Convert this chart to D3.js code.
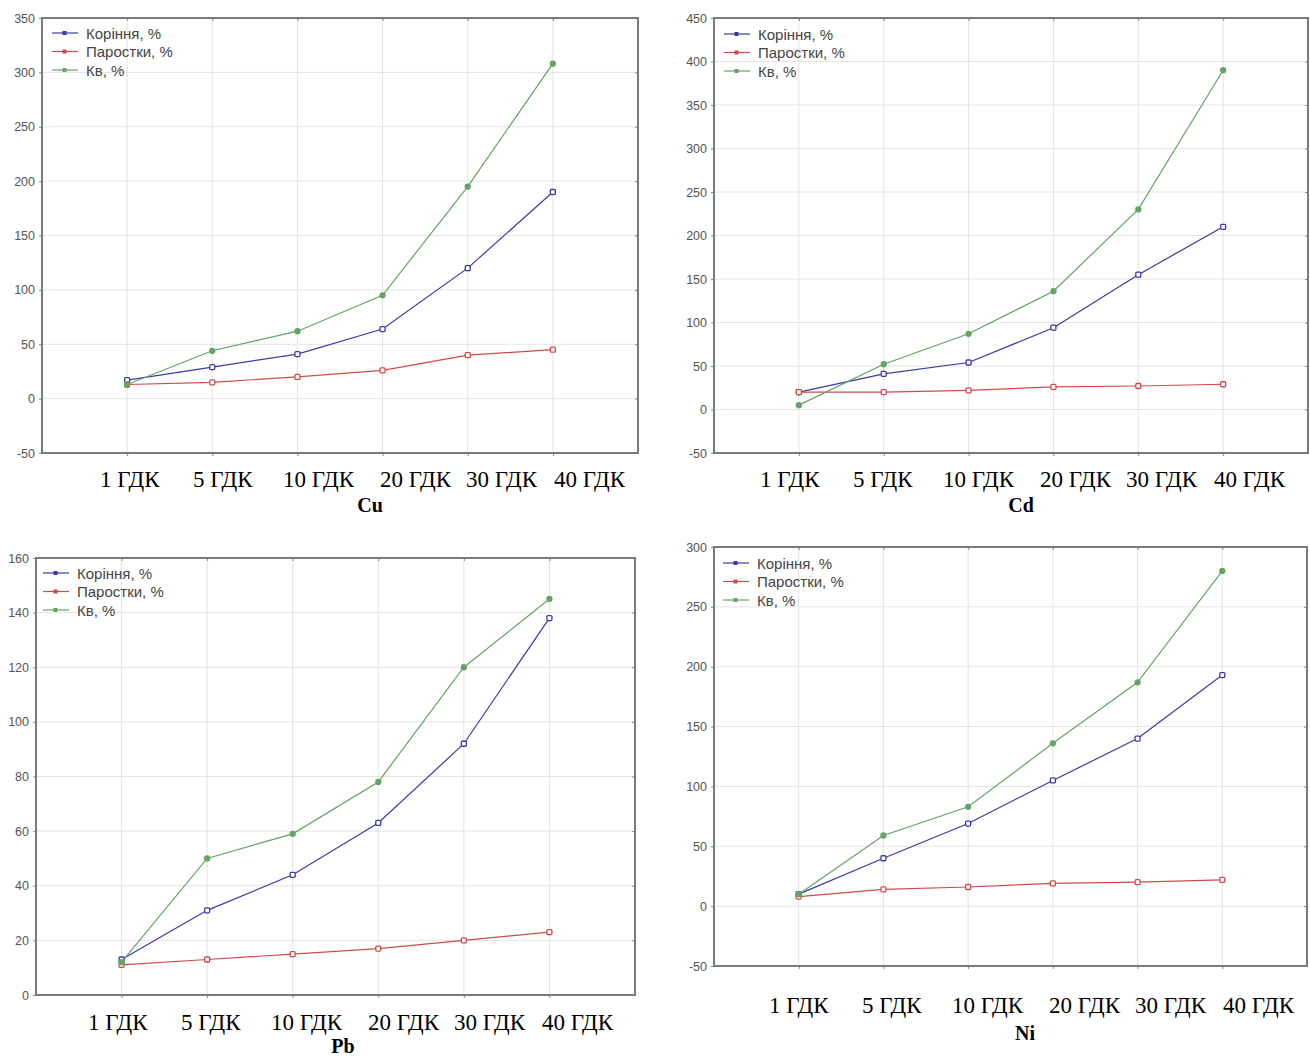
<!DOCTYPE html>
<html>
<head>
<meta charset="utf-8">
<script src="https://cdn.jsdelivr.net/npm/d3@7"></script>
<style>
  body { margin: 0; background: #fff; }
  svg { display: block; }
  .tick text { font-family: "Liberation Sans", Arial, sans-serif; font-size: 12.5px; fill: #555; }
  .legend text { font-family: "Liberation Sans", Arial, sans-serif; font-size: 15px; fill: #444; }
  .cat-label { font-family: "Liberation Serif", "Times New Roman", serif; font-size: 23px; fill: #000; }
  .metal { font-family: "Liberation Serif", "Times New Roman", serif; font-size: 20px; font-weight: bold; fill: #000; }
</style>
</head>
<body>
<svg id="chart" width="1310" height="1059"></svg>
<script>
// categories & series
const categories = ['1 ГДК', '5 ГДК', '10 ГДК', '20 ГДК', '30 ГДК', '40 ГДК'];
const seriesNames = ['Коріння, %', 'Паростки, %', 'Кв, %'];

// Cu
const cuRoots = [17, 29, 41, 64, 120, 190];
const cuShoots = [13, 15, 20, 26, 40, 45];
const cuKv = [13, 44, 62, 95, 195, 308];
const cuTicks = [-50, 0, 50, 100, 150, 200, 250, 300, 350];

// Cd
const cdRoots = [20, 41, 54, 94, 155, 210];
const cdShoots = [20, 20, 22, 26, 27, 29];
const cdKv = [5, 52, 87, 136, 230, 390];
const cdTicks = [-50, 0, 50, 100, 150, 200, 250, 300, 350, 400, 450];

// Pb
const pbRoots = [13, 31, 44, 63, 92, 138];
const pbShoots = [11, 13, 15, 17, 20, 23];
const pbKv = [12, 50, 59, 78, 120, 145];
const pbTicks = [0, 20, 40, 60, 80, 100, 120, 140, 160];

// Ni
const niRoots = [10, 40, 69, 105, 140, 193];
const niShoots = [8, 14, 16, 19, 20, 22];
const niKv = [10, 59, 83, 136, 187, 280];
const niTicks = [-50, 0, 50, 100, 150, 200, 250, 300];

const colors = ['#3b3ba6', '#d04a4a', '#64a464'];

// the labels under each chart are typed text with uneven spacing
const labelOffsets = [0, 93, 183, 280, 366, 454];

// layout of each panel on the page
const panels = [
    { name: 'Cu', series: [cuRoots, cuShoots, cuKv], ticks: cuTicks,
      frame: [42, 638, 18, 453], labels: [100, 487], title: [370, 512], legend: [52, 33] },
    { name: 'Cd', series: [cdRoots, cdShoots, cdKv], ticks: cdTicks,
      frame: [714, 1308, 18, 453], labels: [760, 487], title: [1021, 512], legend: [724, 34] },
    { name: 'Pb', series: [pbRoots, pbShoots, pbKv], ticks: pbTicks,
      frame: [36, 635, 558, 995], labels: [88, 1030], title: [343, 1053], legend: [43, 573] },
    { name: 'Ni', series: [niRoots, niShoots, niKv], ticks: niTicks,
      frame: [714, 1307, 547, 966], labels: [769, 1013], title: [1025, 1040], legend: [723, 563] }
];

const svg = d3.select('#chart');

panels.forEach(p => {
    const [x0, x1, y0, y1] = p.frame;
    const g = svg.append('g');

    const x = d3.scalePoint().domain(categories).range([x0, x1]).padding(1);
    const y = d3.scaleLinear().domain(d3.extent(p.ticks)).range([y1, y0]);

    // grid
    g.append('g').selectAll('line').data(p.ticks).join('line')
        .attr('x1', x0).attr('x2', x1)
        .attr('y1', d => y(d)).attr('y2', d => y(d))
        .attr('stroke', '#e4e4e4').attr('stroke-width', 1);
    g.append('g').selectAll('line').data(categories).join('line')
        .attr('x1', d => x(d)).attr('x2', d => x(d))
        .attr('y1', y0).attr('y2', y1)
        .attr('stroke', '#e4e4e4').attr('stroke-width', 1);

    // axes
    const left = g.append('g').attr('transform', `translate(${x0},0)`)
        .call(d3.axisLeft(y).tickValues(p.ticks).tickSize(3).tickPadding(4).tickFormat(d => String(d)));
    const right = g.append('g').attr('transform', `translate(${x1},0)`)
        .call(d3.axisLeft(y).tickValues(p.ticks).tickSize(3).tickFormat(''));
    const top = g.append('g').attr('transform', `translate(0,${y0})`)
        .call(d3.axisBottom(x).tickSize(3).tickFormat(''));
    const bottom = g.append('g').attr('transform', `translate(0,${y1})`)
        .call(d3.axisBottom(x).tickSize(3).tickFormat(''));
    [left, right, top, bottom].forEach(a => {
        a.select('.domain').remove();
        a.selectAll('.tick line').attr('stroke', '#888');
    });

    // frame
    g.append('rect')
        .attr('x', x0).attr('y', y0)
        .attr('width', x1 - x0).attr('height', y1 - y0)
        .attr('fill', 'none').attr('stroke', '#7a7a7a').attr('stroke-width', 2);

    // lines
    const line = d3.line().x((d, i) => x(categories[i])).y(d => y(d));
    p.series.forEach((vals, si) => {
        g.append('path').datum(vals)
            .attr('d', line)
            .attr('fill', 'none')
            .attr('stroke', colors[si])
            .attr('stroke-width', 1.2);
    });
    p.series.forEach((vals, si) => {
        g.append('g').selectAll('rect').data(vals).join('rect')
            .attr('x', (d, i) => x(categories[i]) - 2.5)
            .attr('y', d => y(d) - 2.5)
            .attr('width', 5).attr('height', 5)
            .attr('rx', si === 2 ? 2.5 : 1)
            .attr('fill', si === 2 ? colors[si] : '#fff')
            .attr('stroke', colors[si])
            .attr('stroke-width', 1.3);
    });

    // legend
    const [lx, ly] = p.legend;
    const leg = g.append('g').attr('class', 'legend');
    seriesNames.forEach((s, i) => {
        const row = leg.append('g').attr('transform', `translate(${lx},${ly + i * 18.5})`);
        row.append('line').attr('x1', 0).attr('x2', 26).attr('y1', 0).attr('y2', 0)
            .attr('stroke', colors[i]).attr('stroke-width', 1.2);
        row.append('rect').attr('x', 10.5).attr('y', -2).attr('width', 4).attr('height', 4)
            .attr('fill', colors[i]);
        row.append('text').attr('x', 34).attr('y', 5.5).text(s);
    });

    // category labels under the chart
    const [cx, cy] = p.labels;
    g.append('g').selectAll('text').data(categories).join('text')
        .attr('class', 'cat-label')
        .attr('x', (d, i) => cx + labelOffsets[i]).attr('y', cy)
        .text(d => d);

    g.append('text').attr('class', 'metal')
        .attr('x', p.title[0]).attr('y', p.title[1])
        .attr('text-anchor', 'middle')
        .text(p.name);
});
</script>
</body>
</html>
